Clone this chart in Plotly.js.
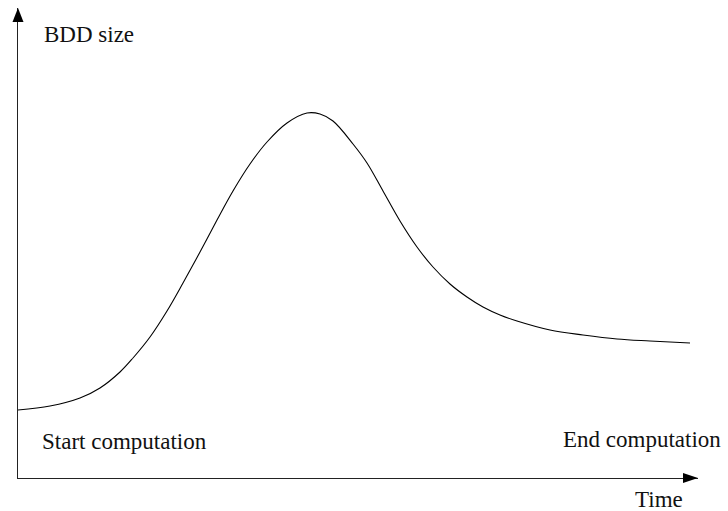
<!DOCTYPE html>
<html>
<head>
<meta charset="utf-8">
<script src="https://cdn.plot.ly/plotly-3.0.1.min.js"></script>
<style>html,body{margin:0;padding:0;background:#fff;}#chart{width:728px;height:511px;}</style>
</head>
<body>
<div id="chart"></div>
<script>
// Schematic BDD size over time (arbitrary units)
const time = [0, 32, 62, 82, 102, 115, 132, 149, 165, 182, 199, 215, 232, 249, 269, 289, 302, 315, 335, 349, 365, 382, 399, 415, 432, 449, 465, 482, 499, 532, 565, 599, 632, 672];
const bddSize = [68, 72, 80, 90, 106, 120, 141, 167, 195, 226, 258, 287, 314, 336, 355, 365, 364, 357, 334, 315, 287, 257, 231, 211, 194, 181, 171, 163, 157, 148, 143, 139, 137, 135];
const labels = {y: 'BDD size', x: 'Time', start: 'Start computation', end: 'End computation'};
const xMax = 680, yMax = 470;

const serif = 'Times New Roman, Liberation Serif, Tinos, Times, DejaVu Serif, serif';
const font = {family: serif, size: 23, color: '#111'};

const trace = {
  x: time, y: bddSize, type: 'scatter', mode: 'lines',
  line: {color: '#000', width: 1.1, shape: 'spline', smoothing: 1},
  hoverinfo: 'skip', cliponaxis: false
};

const layout = {
  width: 728, height: 511,
  margin: {l: 18, r: 30, t: 8, b: 33},
  paper_bgcolor: '#fff', plot_bgcolor: '#fff',
  showlegend: false,
  font: {family: serif},
  xaxis: {range: [0, xMax], showgrid: false, zeroline: false, showticklabels: false, ticks: '',
          showline: true, linecolor: '#222', linewidth: 1.2, fixedrange: true},
  yaxis: {range: [0, yMax], showgrid: false, zeroline: false, showticklabels: false, ticks: '',
          showline: true, linecolor: '#222', linewidth: 1.2, fixedrange: true},
  shapes: [
    {type: 'path', xref: 'paper', yref: 'paper', xsizemode: 'pixel', ysizemode: 'pixel',
     xanchor: 1, yanchor: 0, path: 'M0,0 L-15,5 L-15,-5 Z',
     fillcolor: '#000', line: {width: 0}},
    {type: 'path', xref: 'paper', yref: 'paper', xsizemode: 'pixel', ysizemode: 'pixel',
     xanchor: 0, yanchor: 1, path: 'M0,0 L-5.5,-14 L5.5,-14 Z',
     fillcolor: '#000', line: {width: 0}}
  ],
  annotations: [
    {xref: 'paper', yref: 'paper', x: 0.0353, y: 0.9426, text: labels.y, showarrow: false, xanchor: 'left', yanchor: 'middle', font: font},
    {xref: 'paper', yref: 'paper', x: 0.0324, y: 0.0787, text: labels.start, showarrow: false, xanchor: 'left', yanchor: 'middle', font: font},
    {xref: 'paper', yref: 'paper', x: 1.0368, y: 0.0809, text: labels.end, showarrow: false, xanchor: 'right', yanchor: 'middle', font: font},
    {xref: 'paper', yref: 'paper', x: 0.981, y: -0.0447, text: labels.x, showarrow: false, xanchor: 'right', yanchor: 'middle', font: font}
  ]
};

Plotly.newPlot('chart', [trace], layout, {staticPlot: true, displayModeBar: false});
</script>
</body>
</html>
